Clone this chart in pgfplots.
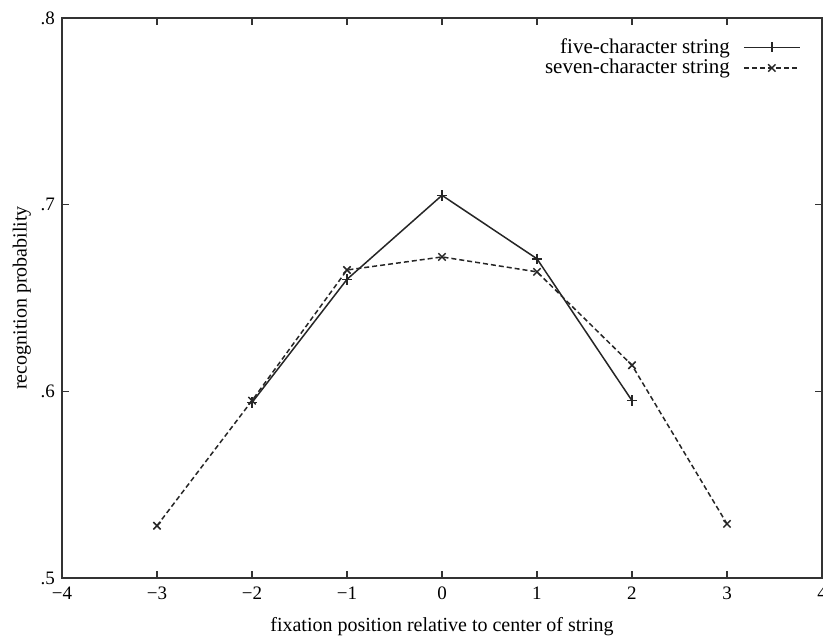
\documentclass[border=0pt]{standalone}
\usepackage{fontspec}
\setmainfont{Liberation Serif}
\usepackage{pgfplots}
\pgfplotsset{compat=1.18}
\begin{document}
\begin{tikzpicture}
\begin{axis}[
  scale only axis,
  width=380pt, height=280pt,
  xmin=-4, xmax=4, ymin=0.5, ymax=0.8,
  xtick={-4,-3,-2,-1,0,1,2,3,4},
  xticklabels={−4,−3,−2,−1,0,1,2,3,4},
  ytick={0.5,0.6,0.7,0.8},
  yticklabels={.5,.6,.7,.8},
  tick align=inside,
  major tick length=3.5pt,
  axis line style={line width=0.7pt, black!80},
  every tick/.style={line width=0.7pt, black!80},
  tick label style={font=\fontsize{9.5}{10}\selectfont},
  xticklabel style={yshift=-1pt},
  label style={font=\fontsize{10.5}{12}\selectfont},
  xlabel={fixation position relative to center of string},
  ylabel={recognition probability},
  every axis x label/.style={at={(axis description cs:0.5,-0.086)}, anchor=center},
  every axis y label/.style={at={(axis description cs:-0.053,0.5)}, rotate=90, anchor=center},
  legend plot pos=right,
  legend cell align=right,
  legend style={draw=none, fill=none, at={(rel axis cs:0.975,0.975)}, anchor=north east,
    font=\fontsize{10.5}{12}\selectfont, row sep=-2.5pt, inner sep=1pt},
  legend image code/.code={\path[draw=none,fill=none] (0pt,0pt) rectangle (1pt,0.1pt); \draw[mark repeat=2,mark phase=2] plot coordinates {(5pt,0pt) (19pt,0pt) (33pt,0pt)};},
]
\addplot[black!85, line width=0.75pt, mark=+, mark size=2.6pt, mark options={solid}] coordinates {
  (-2,0.594) (-1,0.660) (0,0.705) (1,0.671) (2,0.595)
};
\addlegendentry{five-character string}
\addplot[black!85, line width=0.75pt, dash pattern=on 2.5pt off 1.5pt, mark=x, mark size=2.6pt, mark options={solid}] coordinates {
  (-3,0.528) (-2,0.595) (-1,0.665) (0,0.672) (1,0.664) (2,0.614) (3,0.529)
};
\addlegendentry{seven-character string}
\coordinate (sw) at (rel axis cs:0,0);
\coordinate (ne) at (rel axis cs:1,1);
\end{axis}
\pgfresetboundingbox
\useasboundingbox ([xshift=-31pt,yshift=-29.5pt]sw) rectangle ([xshift=0.5pt,yshift=9pt]ne);
\end{tikzpicture}
\end{document}
